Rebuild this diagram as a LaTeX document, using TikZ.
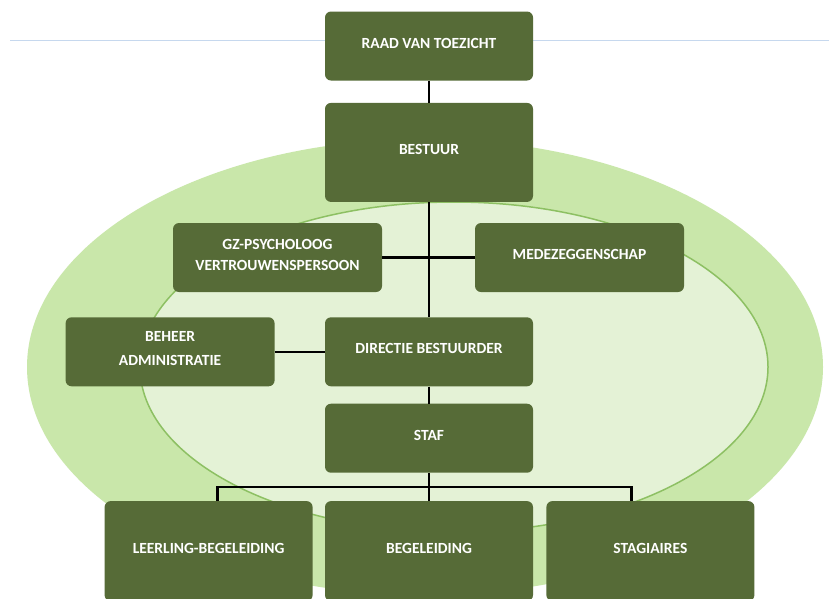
\documentclass[tikz,border=0pt]{standalone}
\usepackage{fontspec}
\setmainfont{Carlito}
\usetikzlibrary{positioning}
\definecolor{boxgreen}{RGB}{86,107,55}
\definecolor{outergreen}{RGB}{201,231,170}
\definecolor{innergreen}{RGB}{228,242,214}
\definecolor{rimgreen}{RGB}{141,192,99}
\definecolor{rulerblue}{RGB}{198,216,238}

\begin{document}
\begin{tikzpicture}
	[
	  x=1pt, y=-1pt,
	  unit/.style={rectangle, rounded corners=6pt, fill=boxgreen, text=white,
	    font=\fontsize{15.5}{21}\selectfont\bfseries, align=center,
	    minimum width=208pt, minimum height=69pt, inner sep=0pt, text depth=6pt},
	  link/.style={line width=2.4pt, black},
	  node distance=22pt,
	]
	\useasboundingbox [fill=white] (0,0) rectangle (829,598);
	\draw [rulerblue, line width=1.5pt] (10,40.5) -- (829,40.5);
	% the two rings
	\fill [outergreen] (425,367) ellipse [x radius=398pt, y radius=228pt];
	\filldraw [fill=innergreen, draw=rimgreen, line width=1.5pt]
	  (454,367) ellipse [x radius=314pt, y radius=165pt];

	\node (raad) [unit] at (429,46) {RAAD VAN TOEZICHT};
	\node (bestuur) [unit, below=of raad, minimum height=99pt] {BESTUUR};
	\node (directie) [unit, below=115pt of bestuur] {DIRECTIE BESTUURDER};
	\node (gz) [unit, minimum width=209pt] at (277.5,257.5) {GZ-PSYCHOLOOG\\VERTROUWENSPERSOON};
	\node (mede) [unit, minimum width=209pt] at (579.5,257.5) {MEDEZEGGENSCHAP};
	\node (beheer) [unit, minimum width=209pt, left=50pt of directie] {BEHEER\\[3pt]ADMINISTRATIE};
	\node (staf) [unit, below=17pt of directie] {STAF};
	\node (begel) [unit, below=28pt of staf, minimum height=100pt] {BEGELEIDING};
	\node (leerling) [unit, left=12pt of begel, minimum height=100pt] {LEERLING-BEGELEIDING};
	\node (stag) [unit, right=13pt of begel, minimum height=100pt] {STAGIAIRES};

	\draw [link] (raad) -- (bestuur);
	\draw [link] (bestuur) -- (directie);
	\draw [link] (gz) -- (mede);
	\draw [link] (beheer) -- (directie);
	\draw [link] (directie) -- (staf);
	\draw [link] (staf.south) -- ++(0,14) coordinate (bus);
	\draw [link] ([xshift=9pt]leerling.north) |- (bus) -| ([xshift=-19pt]stag.north);
	\draw [link] (bus) -- (begel);
\end{tikzpicture}
\end{document}
